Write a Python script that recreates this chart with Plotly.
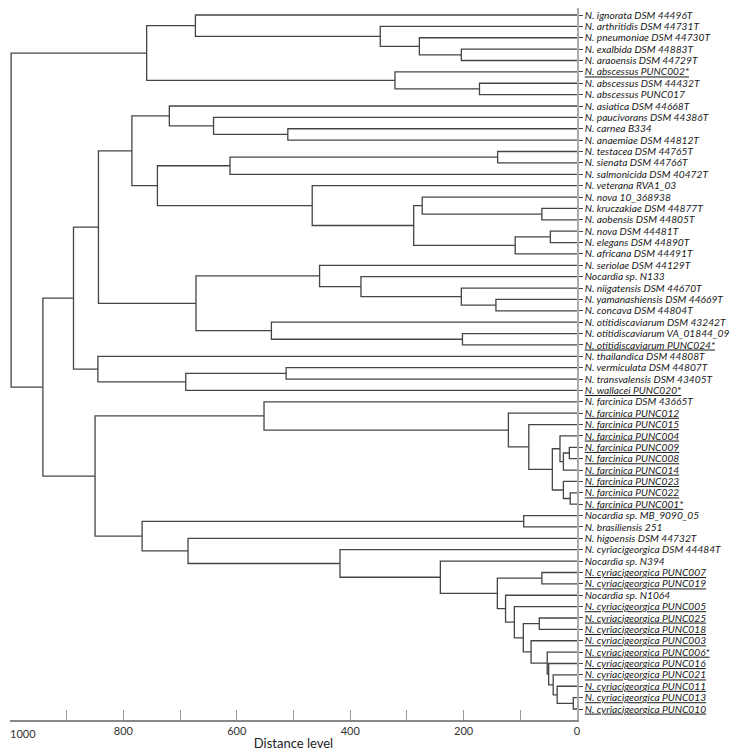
import plotly.graph_objects as go

# ---------------- data ----------------
leaf_labels = [
    "N. ignorata DSM 44496T", "N. arthritidis DSM 44731T", "N. pneumoniae DSM 44730T",
    "N. exalbida DSM 44883T", "N. araoensis DSM 44729T", "N. abscessus PUNC002*",
    "N. abscessus DSM 44432T", "N. abscessus PUNC017", "N. asiatica DSM 44668T",
    "N. paucivorans DSM 44386T", "N. carnea B334", "N. anaemiae DSM 44812T",
    "N. testacea DSM 44765T", "N. sienata DSM 44766T", "N. salmonicida DSM 40472T",
    "N. veterana RVA1_03", "N. nova 10_368938", "N. kruczakiae DSM 44877T",
    "N. aobensis DSM 44805T", "N. nova DSM 44481T", "N. elegans DSM 44890T",
    "N. africana DSM 44491T", "N. seriolae DSM 44129T", "Nocardia sp. N133",
    "N. niigatensis DSM 44670T", "N. yamanashiensis DSM 44669T", "N. concava DSM 44804T",
    "N. otitidiscaviarum DSM 43242T", "N. otitidiscaviarum VA_01844_09",
    "N. otitidiscaviarum PUNC024*", "N. thailandica DSM 44808T", "N. vermiculata DSM 44807T",
    "N. transvalensis DSM 43405T", "N. wallacei PUNC020*", "N. farcinica DSM 43665T",
    "N. farcinica PUNC012", "N. farcinica PUNC015", "N. farcinica PUNC004",
    "N. farcinica PUNC009", "N. farcinica PUNC008", "N. farcinica PUNC014",
    "N. farcinica PUNC023", "N. farcinica PUNC022", "N. farcinica PUNC001*",
    "Nocardia sp. MB_9090_05", "N. brasiliensis 251", "N. higoensis DSM 44732T",
    "N. cyriacigeorgica DSM 44484T", "Nocardia sp. N394", "N. cyriacigeorgica PUNC007",
    "N. cyriacigeorgica PUNC019", "Nocardia sp. N1064", "N. cyriacigeorgica PUNC005",
    "N. cyriacigeorgica PUNC025", "N. cyriacigeorgica PUNC018", "N. cyriacigeorgica PUNC003",
    "N. cyriacigeorgica PUNC006*", "N. cyriacigeorgica PUNC016", "N. cyriacigeorgica PUNC021",
    "N. cyriacigeorgica PUNC011", "N. cyriacigeorgica PUNC013", "N. cyriacigeorgica PUNC010",
]

underlined = [5, 29, 33, 35, 36, 37, 38, 39, 40, 41, 42, 43,
              49, 50, 52, 53, 54, 55, 56, 57, 58, 59, 60, 61]

# merges: (node id, child 1, child 2, distance level); ints are leaves
merges = [
    ("A", 3, 4, 204), ("B", 2, "A", 278), ("C", 1, "B", 347), ("D", 0, "C", 673),
    ("E", 6, 7, 172), ("F", 5, "E", 321), ("G", "D", "F", 759),
    ("H", 10, 11, 510), ("I", 9, "H", 641), ("J", 8, "I", 719),
    ("K", 12, 13, 140), ("L", "K", 14, 612),
    ("M", 17, 18, 62), ("N", 16, "M", 273), ("O", 19, 20, 47), ("P", "O", 21, 109),
    ("Q", "N", "P", 288), ("R", 15, "Q", 467), ("S", "L", "R", 740), ("T", "J", "S", 785),
    ("U", 25, 26, 143), ("V", 24, "U", 204), ("W", 23, "V", 381), ("X", 22, "W", 454),
    ("Y", 28, 29, 202), ("Z", 27, "Y", 539), ("AA", "X", "Z", 672), ("AB", "T", "AA", 844),
    ("AC", 31, 32, 513), ("AD", "AC", 33, 690), ("AE", 30, "AD", 845), ("AF", "AB", "AE", 888),
    ("AG", 38, 39, 13.5), ("AH", "AG", 40, 24), ("AI", 37, "AH", 30),
    ("AJ", 42, 43, 12), ("AK", 41, "AJ", 24), ("AL", "AI", "AK", 43.5),
    ("AM", 36, "AL", 85), ("AN", 35, "AM", 121), ("AO", 34, "AN", 552),
    ("AP", 44, 45, 94),
    ("AQ", 60, 61, 6.5), ("AR", 59, "AQ", 35), ("AS", 58, "AR", 42), ("AT", 57, "AS", 50),
    ("AU", 56, "AT", 52.5), ("AV", 55, "AU", 81), ("AW", 53, 54, 66.5), ("AX", "AW", "AV", 94.7),
    ("AY", 52, "AX", 110.5), ("AZ", 51, "AY", 126), ("BA", 49, 50, 62), ("BB", "BA", "AZ", 140.5),
    ("BC", 48, "BB", 241), ("BD", 47, "BC", 418), ("BE", 46, "BD", 686), ("BF", "AP", "BE", 767),
    ("BG", "AO", "BF", 850), ("BH", "AF", "BG", 942), ("ROOT", "G", "BH", 998),
]

x_tick_vals = [0, 100, 200, 300, 400, 500, 600, 700, 800, 900, 1000]
x_tick_text = ["0", "", "200", "", "400", "", "600", "", "800", "", ""]
edge_label = "1000"

# ---------------- build segments ----------------
pos = {i: (i, 0.0) for i in range(len(leaf_labels))}  # node -> (y, height)
xs, ys = [], []
for nid, c1, c2, h in merges:
    y1, h1 = pos[c1]
    y2, h2 = pos[c2]
    xs += [h1, h, h, h2, None]
    ys += [y1, y1, y2, y2, None]
    pos[nid] = ((y1 + y2) / 2.0, h)

fig = go.Figure()
fig.add_trace(go.Scatter(x=xs, y=ys, mode="lines",
                         line=dict(color="#454545", width=1.3),
                         hoverinfo="skip", showlegend=False))

ticktext = [f"<u>{lab}</u>" if i in underlined else lab
            for i, lab in enumerate(leaf_labels)]

n = len(leaf_labels)
step = 694 / (n - 1)
fig.add_annotation(text=edge_label, xref="paper", yref="paper", x=0, y=0,
                   xanchor="left", yanchor="top", xshift=-2, yshift=-5,
                   showarrow=False, font=dict(size=11, color="#333"))

fig.update_layout(
    width=732, height=747,
    margin=dict(l=2, r=163, t=0, b=35),
    paper_bgcolor="white", plot_bgcolor="white",
    font=dict(family="Lato, 'Open Sans', sans-serif", color="#222"),
    xaxis=dict(range=[1000, 0], tickvals=x_tick_vals, ticktext=x_tick_text,
               ticks="inside", ticklen=10, tickwidth=1.3, tickcolor="#999",
               showline=True, linecolor="#888", linewidth=1.5,
               showgrid=False, zeroline=False,
               tickfont=dict(size=11, color="#333"),
               title=dict(text="Distance level", font=dict(size=13, color="#222"), standoff=3),
               automargin=False),
    yaxis=dict(range=[n - 1 + 11 / step, -7 / step], side="right",
               tickvals=list(range(n)), ticktext=ticktext,
               ticks="outside", ticklen=4, tickwidth=1.2, tickcolor="#454545",
               showline=True, linecolor="#aaa", linewidth=1.5,
               showgrid=False, zeroline=False, ticklabeloverflow="allow",
               tickfont=dict(size=10.2, color="#1a1a1a", style="italic"),
               automargin=False),
)

fig.write_html("out.html")
